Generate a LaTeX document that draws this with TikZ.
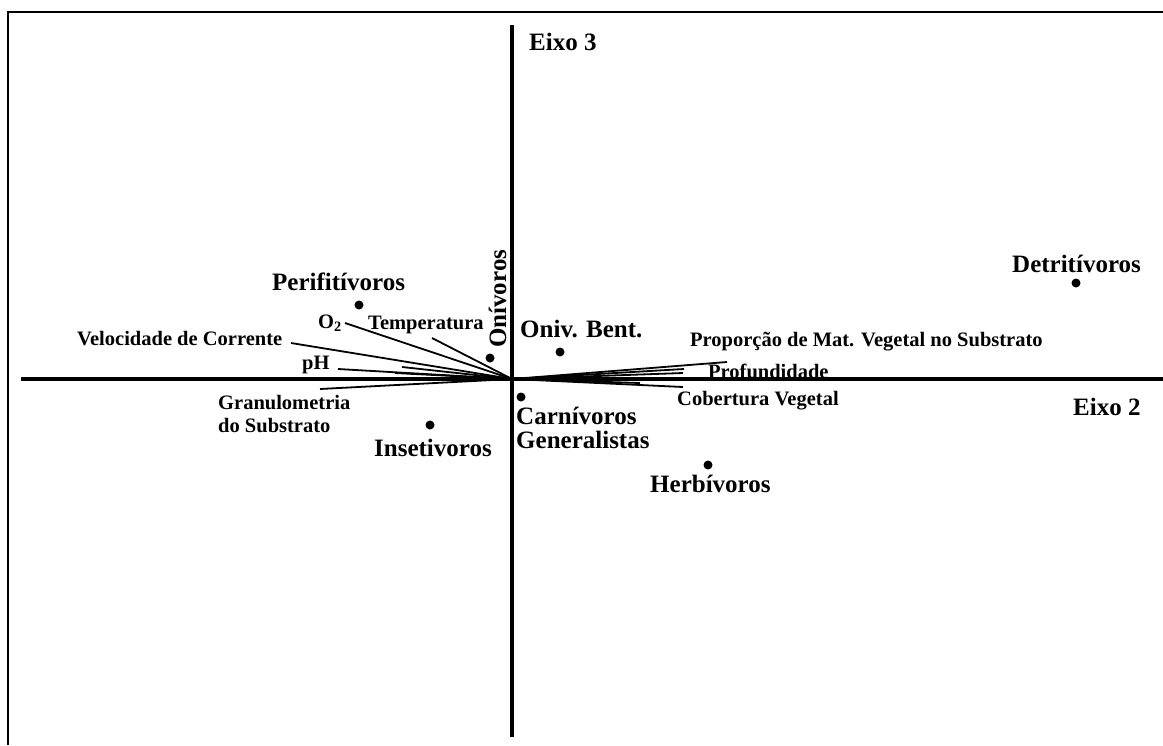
\documentclass[tikz,border=0pt]{standalone}
\usepackage{fontspec}
\setmainfont{Liberation Serif}
\begin{document}
\begin{tikzpicture}[x=1pt,y=-1pt,
  big/.style={font=\bfseries\fontsize{25}{27}\selectfont, inner sep=0pt, anchor=base west},
  small/.style={font=\bfseries\fontsize{20.5}{22}\selectfont, inner sep=0pt, anchor=base west},
  dot/.style={circle, fill=black, inner sep=0pt, minimum size=9pt},
  axisline/.style={line width=3.6pt},
  frameline/.style={line width=2.6pt},
  vec/.style={line width=1.8pt}]
\useasboundingbox (0,0) rectangle (1163,745);
% frame (top and left only)
\coordinate (fbl) at (8,745);
\coordinate (ftl) at (8,12);
\coordinate (ftr) at (1163,12);
\draw[frameline] (fbl) -- (ftl) -- (ftr);
% axes
\coordinate (O) at (512,379);
\coordinate (xl) at (21,379);
\coordinate (xr) at (1163,379);
\coordinate (yt) at (512,25);
\coordinate (yb) at (512,737);
\draw[axisline] (xl) -- (xr);
\draw[axisline] (yt) -- (yb);
% environmental vectors
\coordinate (vel) at (291,343);
\coordinate (o2) at (345,323);
\coordinate (temp) at (432,338);
\coordinate (ph) at (338,369);
\coordinate (gran) at (320,389);
\coordinate (s1) at (402,367);
\coordinate (s2) at (395,373);
\coordinate (prop) at (727,362);
\coordinate (prof) at (684,369);
\coordinate (p2) at (683,373);
\coordinate (cob) at (683,387);
\coordinate (p3) at (640,383);
\foreach \e in {vel,o2,temp,ph,gran,s1,s2,prop,prof,p2,cob,p3}
  \draw[vec] (O) -- (\e);
% vector labels
\node[small] (lvel) at (77,345) {Velocidade de Corrente};
\node[small] (lo2) at (318,328) {O\textsubscript{2}};
\node[small] (ltemp) at (368,329) {Temperatura};
\node[small] (lph) at (302,369) {pH};
\node[small] (lgran1) at (218,409) {Granulometria};
\node[small] (lgran2) at (218,432) {do Substrato};
\node[small] (lprop) at (690,346) {Proporção de Mat. Vegetal no Substrato};
\node[small] (lprof) at (708,378) {Profundidade};
\node[small] (lcob) at (677,405) {Cobertura Vegetal};
% axis labels
\node[big] (e3) at (529,50) {Eixo 3};
\node[big] (e2) at (1073,415) {Eixo 2};
% guild points
\node[dot] (dperi) at (359,305) {};
\node[dot] (doni) at (490,358) {};
\node[dot] (dbent) at (560,352) {};
\node[dot] (dcarn) at (521,397) {};
\node[dot] (dinse) at (430,425) {};
\node[dot] (dherb) at (708,465) {};
\node[dot] (ddetr) at (1076,283) {};
\node[big] (lperi) at (272,290) {Perifitívoros};
\node[big, rotate=90] (loni) at (506,348) {Onívoros};
\node[big] (lbent) at (520,337) {Oniv. Bent.};
\node[big] (lcarn1) at (516,424) {Carnívoros};
\node[big] (lcarn2) at (516,448) {Generalistas};
\node[big] (linse) at (374,456) {Insetivoros};
\node[big] (lherb) at (650,492) {Herbívoros};
\node[big] (ldetr) at (1012,272) {Detritívoros};
\end{tikzpicture}
\end{document}
